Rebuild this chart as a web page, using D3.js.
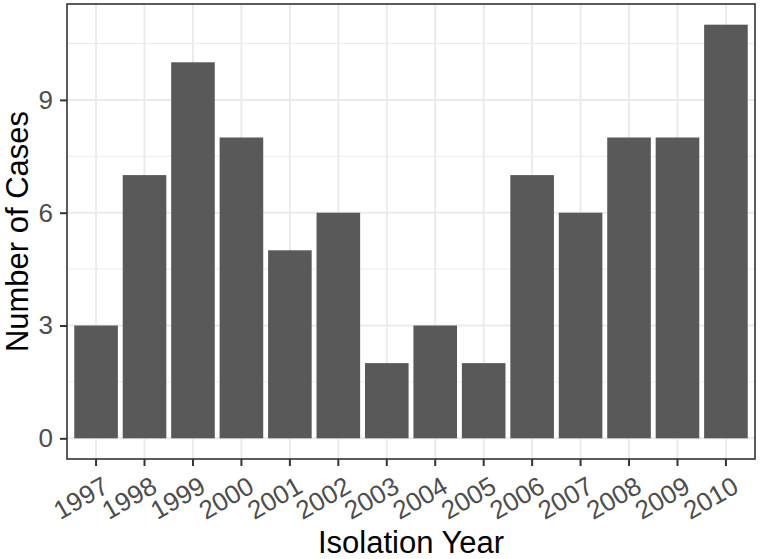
<!DOCTYPE html>
<html>
<head lang="en">
    <meta charset="UTF-8">
    <title></title>
    <script src="https://cdn.jsdelivr.net/npm/d3@7"></script>
    <style>
        body{margin:0;background:#fff;}
        text{font-family:"Liberation Sans",Arial,sans-serif;}
        .tick text{font-size:26px;fill:#4D4D4D;}
    </style>
</head>
<body>
<script>
    // data
    var years=["1997","1998","1999","2000","2001","2002","2003","2004","2005","2006","2007","2008","2009","2010"];
    var cases=[3,7,10,8,5,6,2,3,2,7,6,8,8,11];
    var yTicks=[0,3,6,9];
    var yMinor=[1.5,4.5,7.5,10.5];

    var W=760,H=559;
    var panel={left:67,right:755,top:4,bottom:459};

    var svg=d3.select("body").append("svg")
            .attr("width",W)
            .attr("height",H);

    var x=d3.scaleBand()
            .domain(years)
            .range([panel.left,panel.right])
            .paddingInner(0.1)
            .paddingOuter(0.15);

    var ymax=d3.max(cases);
    var y=d3.scaleLinear()
            .domain([-0.05*ymax,ymax*1.05])
            .range([panel.bottom,panel.top]);

    //grid
    var grid=svg.append("g");
    grid.selectAll("line.minor")
            .data(yMinor)
            .enter()
            .append("line")
            .attr("x1",panel.left).attr("x2",panel.right)
            .attr("y1",function(d){return y(d);})
            .attr("y2",function(d){return y(d);})
            .style("stroke","#EBEBEB")
            .style("stroke-width",1);
    grid.selectAll("line.majory")
            .data(yTicks)
            .enter()
            .append("line")
            .attr("x1",panel.left).attr("x2",panel.right)
            .attr("y1",function(d){return y(d);})
            .attr("y2",function(d){return y(d);})
            .style("stroke","#EBEBEB")
            .style("stroke-width",2);
    grid.selectAll("line.majorx")
            .data(years)
            .enter()
            .append("line")
            .attr("y1",panel.top).attr("y2",panel.bottom)
            .attr("x1",function(d){return x(d)+x.bandwidth()/2;})
            .attr("x2",function(d){return x(d)+x.bandwidth()/2;})
            .style("stroke","#EBEBEB")
            .style("stroke-width",2);

    //bars
    svg.append("g")
            .selectAll("rect")
            .data(cases)
            .enter()
            .append("rect")
            .attr("x",function(d,i){return x(years[i]);})
            .attr("width",x.bandwidth())
            .attr("y",function(d){return y(d);})
            .attr("height",function(d){return y(0)-y(d);})
            .style("fill","#595959");

    //border
    svg.append("rect")
            .attr("x",panel.left).attr("y",panel.top)
            .attr("width",panel.right-panel.left)
            .attr("height",panel.bottom-panel.top)
            .style("fill","none")
            .style("stroke","#333333")
            .style("stroke-width",1.6);

    //axes
    var xAxis=svg.append("g")
            .attr("transform","translate(0,"+panel.bottom+")")
            .call(d3.axisBottom(x).tickSize(7).tickPadding(0));
    xAxis.select(".domain").remove();
    xAxis.attr("font-size",null).attr("font-family",null);
    xAxis.selectAll(".tick line").style("stroke","#333333").style("stroke-width",2);
    xAxis.selectAll(".tick text")
            .attr("y",0)
            .attr("transform","translate(5,16) rotate(-30)")
            .attr("text-anchor","end")
            .attr("dy","0.72em");

    var yAxis=svg.append("g")
            .attr("transform","translate("+panel.left+",0)")
            .call(d3.axisLeft(y).tickValues(yTicks).tickSize(7).tickPadding(7));
    yAxis.select(".domain").remove();
    yAxis.attr("font-size",null).attr("font-family",null);
    yAxis.selectAll(".tick line").style("stroke","#333333").style("stroke-width",2);

    //titles
    svg.append("text")
            .attr("x",(panel.left+panel.right)/2)
            .attr("y",553)
            .attr("text-anchor","middle")
            .style("font-size","31px")
            .style("fill","#000")
            .text("Isolation Year");
    svg.append("text")
            .attr("transform","translate(28,"+(panel.top+panel.bottom)/2+") rotate(-90)")
            .attr("text-anchor","middle")
            .style("font-size","31px")
            .style("fill","#000")
            .text("Number of Cases");
</script>
</body>
</html>
